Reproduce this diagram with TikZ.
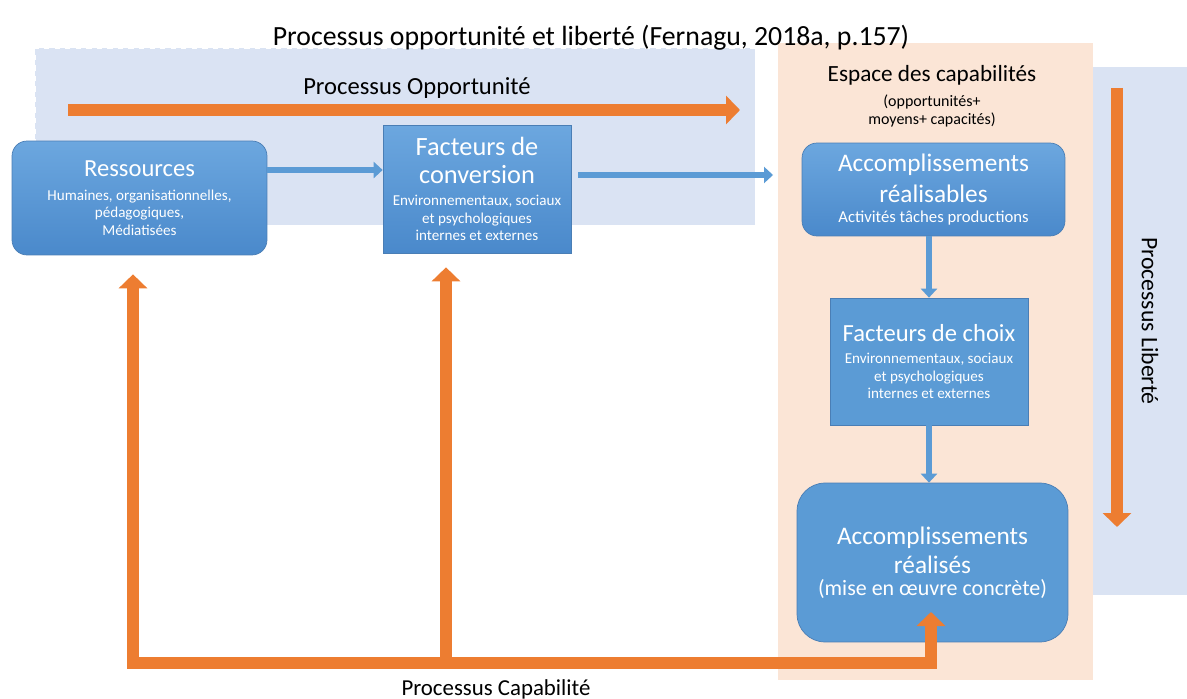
\documentclass[tikz,border=0pt]{standalone}
\usepackage{fontspec}
\setmainfont{Carlito}
\usetikzlibrary{arrows.meta}

\definecolor{zoneblue}{HTML}{DAE3F3}
\definecolor{zonepeach}{HTML}{FBE5D6}
\definecolor{boxblue}{HTML}{5B9BD5}
\definecolor{boxtop}{HTML}{6CA7DF}
\definecolor{boxbot}{HTML}{4A89CB}
\definecolor{boxline}{HTML}{4A7EB5}
\definecolor{procorange}{HTML}{ED7D31}

\newcommand{\titlefont}{\fontsize{15}{18}\selectfont}
\newcommand{\accfont}{\fontsize{14.4}{17}\selectfont}
\newcommand{\notefont}{\fontsize{8.6}{10.5}\selectfont}

\begin{document}
\begin{tikzpicture}[x=0.02cm, y=-0.02cm]
    \tikzset{zone/.style = {inner sep=0pt, outer sep=0pt},
             box/.style = {draw=boxline, thin, text=white, align=center, inner sep=2pt,
                           top color=boxtop, bottom color=boxbot},
             flatbox/.style = {box, top color=boxblue, bottom color=boxblue},
             link/.style = {draw=boxblue, line width=0.11cm,
                            -{Triangle[width=0.32cm, length=0.18cm]}},
             process/.style = {draw=procorange, line width=0.25cm,
                               -{Triangle[width=0.56cm, length=0.28cm]}}}
    \useasboundingbox (0,0) rectangle (1187,699);

    % zones
    \node[zone, fill=zoneblue, draw=white, dashed, minimum width=14.4cm, minimum height=3.54cm] (oppo) at (395,136.5) {};
    \node[zone, fill=zonepeach, minimum width=6.3cm, minimum height=12.74cm] (espace) at (935.5,361.5) {};
    \node[zone, fill=zoneblue, minimum width=1.88cm, minimum height=10.56cm] (libre) at (1140,331) {};

    % labels
    \node[font=\fontsize{15.8}{19}\selectfont] (titre) at (591,38) {Processus opportunité et liberté (Fernagu, 2018a, p.157)};
    \node[font=\fontsize{14}{17}\selectfont] (oppLabel) at (417,88) {Processus Opportunité};
    \node[font=\fontsize{13.2}{16}\selectfont] (espLabel) at (932,75) {Espace des capabilités};
    \node[font=\fontsize{9.1}{10.2}\selectfont, align=center] (espNote) at (932,111) {(opportunités+\\moyens+ capacités)};
    \node[font=\fontsize{13.5}{16}\selectfont, rotate=-90] (libLabel) at (1150,321) {Processus Liberté};
    \node[font=\fontsize{13}{16}\selectfont] (capLabel) at (496,689) {Processus Capabilité};

    % processus
    \coordinate (oppStart) at (68,110);
    \coordinate (oppEnd) at (740,110);
    \draw[process] (oppStart) -- (oppEnd);
    \coordinate (libStart) at (1117,88);
    \coordinate (libEnd) at (1117,527);
    \draw[process] (libStart) -- (libEnd);

    % boites
    \node[box, rounded corners=0.3cm, minimum width=5.1cm, minimum height=2.28cm] (res) at (139.5,198)
        {{\fontsize{14}{17}\selectfont Ressources}\\[1.5pt] {\notefont Humaines, organisationnelles,}\\[-2pt] {\notefont pédagogiques,}\\[-2pt] {\notefont Médiatisées}};
    \node[box, minimum width=3.76cm, minimum height=2.56cm] (conv) at (477,189)
        {{\titlefont Facteurs de}\\[3.8pt] {\titlefont conversion}\\[0.7pt] {\notefont Environnementaux, sociaux}\\[-2pt] {\notefont et psychologiques}\\[-2pt] {\notefont internes et externes}};
    \node[box, rounded corners=0.3cm, minimum width=5.26cm, minimum height=1.86cm] (realis) at (933.5,189.5)
        {{\accfont Accomplissements}\\[4.4pt] {\accfont réalisables}\\[-1pt] {\fontsize{9.5}{11}\selectfont Activités tâches productions}};
    \node[flatbox, minimum width=3.96cm, minimum height=2.54cm] (choix) at (929,361.5)
        {{\fontsize{14}{17}\selectfont Facteurs de choix}\\[0.7pt] {\notefont Environnementaux, sociaux}\\[-2pt] {\notefont et psychologiques}\\[-2pt] {\notefont internes et externes}};
    \node[flatbox, rounded corners=0.56cm, minimum width=5.42cm, minimum height=3.18cm] (real) at (932.5,562.5)
        {{\accfont Accomplissements}\\[3.3pt] {\accfont réalisés}\\[0.5pt] {\fontsize{12.5}{15}\selectfont (mise en œuvre concrète)}};

    % liens
    \draw[link] ([yshift=0.56cm]res.east) -- ([yshift=0.56cm]res.east -| conv.west);
    \draw[link, shorten <=0.14cm, shorten >=0.1cm] ([yshift=0.28cm]conv.east) -- ([yshift=0.28cm]conv.east -| espace.west);
    \draw[link] (realis.south -| choix.north) -- (choix.north);
    \draw[link] (choix.south) -- (choix.south |- real.north);

    % processus capabilite
    \coordinate (capL) at (133,663);
    \coordinate (capM) at (446,663);
    \coordinate (capR) at (931,663);
    \coordinate (capTip) at (931,612);
    \draw[process, {Triangle[width=0.56cm, length=0.28cm]}-{Triangle[width=0.56cm, length=0.28cm]}, shorten <=0.38cm]
        (capL |- res.south) -- (capL) -- (capR) -- (capTip);
    \draw[process, shorten >=0.28cm] (capM) -- (capM |- conv.south);
\end{tikzpicture}
\end{document}
